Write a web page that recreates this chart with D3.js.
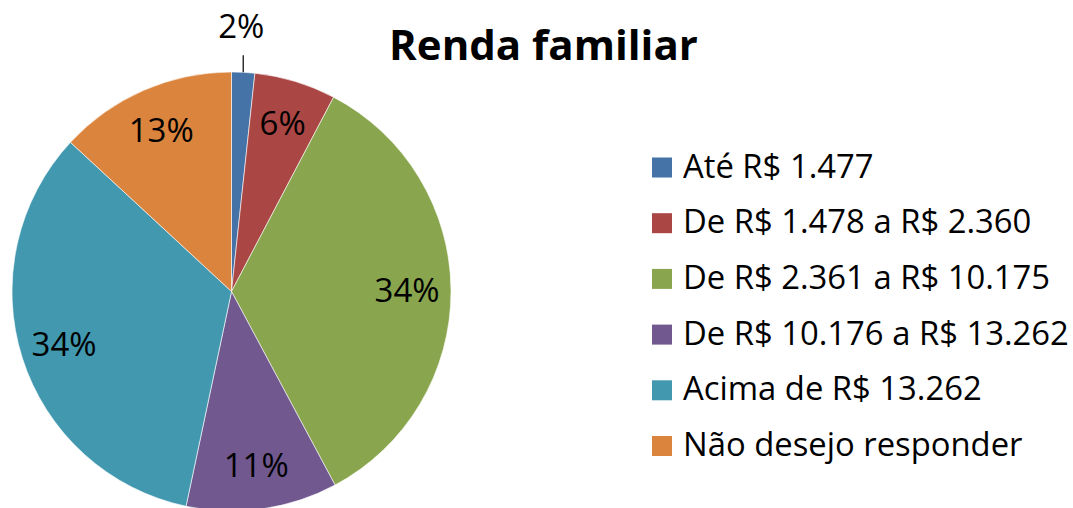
<!DOCTYPE html>
<html>
<head>
<meta charset="utf-8">
<script src="https://cdn.jsdelivr.net/npm/d3@7"></script>
<style>
  body { margin: 0; background: #fff; }
  text { font-family: "Open Sans", sans-serif; fill: #000; }
</style>
</head>
<body>
<div id="chart-area"></div>
<script>
// data (percent of respondents)
var categories = ["Até R$ 1.477", "De R$ 1.478 a R$ 2.360", "De R$ 2.361 a R$ 10.175",
                  "De R$ 10.176 a R$ 13.262", "Acima de R$ 13.262", "Não desejo responder"];
var values = [1.70, 6.00, 34.48, 11.14, 33.57, 13.11];
var labels = ["2%", "6%", "34%", "11%", "34%", "13%"];
var colors = ["#4572A7", "#AA4643", "#89A54E", "#71588F", "#4198AF", "#DB843D"];

var width = 1073, height = 508;
var cx = 231.5, cy = 291.5, radius = 219.5;

var svg = d3.select("#chart-area")
  .append("svg")
  .attr("width", width)
  .attr("height", height);

var data = categories.map((c, i) => ({name: c, value: values[i], label: labels[i]}));

var color = d3.scaleOrdinal()
  .domain(categories)
  .range(colors);

var pie = d3.pie()
  .value(d => d.value)
  .sort(null);

var arc = d3.arc()
  .innerRadius(0)
  .outerRadius(radius);

var labelArc = d3.arc()
  .innerRadius(radius * 0.8)
  .outerRadius(radius * 0.8);

var g = svg.append("g")
  .attr("transform", `translate(${cx}, ${cy})`);

var arcs = pie(data);

g.selectAll("path")
  .data(arcs)
  .enter()
  .append("path")
  .attr("d", arc)
  .attr("fill", d => color(d.data.name))
  .attr("stroke", "#fff")
  .attr("stroke-width", 0.6);

// inside labels (all but the tiny first slice)
g.selectAll("text.pct")
  .data(arcs.slice(1))
  .enter()
  .append("text")
  .attr("class", "pct")
  .attr("transform", d => `translate(${labelArc.centroid(d)})`)
  .attr("text-anchor", "middle")
  .attr("dy", "0.35em")
  .attr("font-size", "33px")
  .text(d => d.data.label);

// first slice: label outside with a short leader line
var first = arcs[0];
var outerPt = d3.arc().innerRadius(radius).outerRadius(radius).centroid(first);
g.append("line")
  .attr("x1", outerPt[0])
  .attr("y1", outerPt[1])
  .attr("x2", outerPt[0])
  .attr("y2", outerPt[1] - 17)
  .attr("stroke", "#000")
  .attr("stroke-width", 1.2);
g.append("text")
  .attr("x", outerPt[0] - 2)
  .attr("y", outerPt[1] - 34)
  .attr("text-anchor", "middle")
  .attr("font-size", "33px")
  .text(first.data.label);

// title
svg.append("text")
  .attr("x", 543.5)
  .attr("y", 60)
  .attr("text-anchor", "middle")
  .attr("font-weight", "bold")
  .attr("font-size", "42px")
  .text("Renda familiar");

// legend
var legendY = d3.scaleLinear()
  .domain([0, categories.length - 1])
  .range([157.5, 436]);

var legend = svg.append("g")
  .selectAll("g")
  .data(categories)
  .enter()
  .append("g")
  .attr("transform", (d, i) => `translate(652, ${legendY(i)})`);

legend.append("rect")
  .attr("width", 20)
  .attr("height", 20)
  .attr("fill", d => color(d));

legend.append("text")
  .attr("x", 31)
  .attr("y", 20)
  .attr("font-size", "32.8px")
  .text(d => d);
</script>
</body>
</html>
